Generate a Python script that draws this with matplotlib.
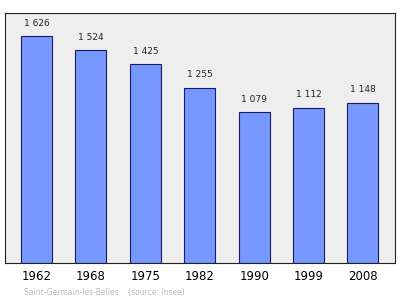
import matplotlib.pyplot as plt

years = ['1962', '1968', '1975', '1982', '1990', '1999', '2008']
population = [1626, 1524, 1425, 1255, 1079, 1112, 1148]
labels = ['1 626', '1 524', '1 425', '1 255', '1 079', '1 112', '1 148']

fig = plt.figure(figsize=(4, 2.99), dpi=100)
ax = fig.add_axes([0.0125, 0.1204, 0.975, 0.836])
ax.set_facecolor('#eeeeee')

x = range(len(years))
bars = ax.bar(x, population, width=0.57, color='#7799ff', edgecolor='#1a1a66', linewidth=0.8)
for b, lab in zip(bars, labels):
    ax.text(b.get_x() + b.get_width() / 2, b.get_height() + 60, lab,
            ha='center', va='bottom', fontsize=6.5, color='#222222')

ax.set_xlim(-0.58, 6.59)
ax.set_ylim(0, 1791)
ax.set_xticks(list(x))
ax.set_xticklabels(years, fontsize=8.5)
ax.tick_params(axis='x', length=0, pad=5)
ax.set_yticks([])
for s in ax.spines.values():
    s.set_color('#222222')
    s.set_linewidth(0.8)

fig.text(0.06, 0.008, 'Saint-Germain-les-Belles    (source: Insee)',
         fontsize=5.5, color='#bbbbbb', ha='left', va='bottom')

fig.savefig('out.png', dpi=100)
